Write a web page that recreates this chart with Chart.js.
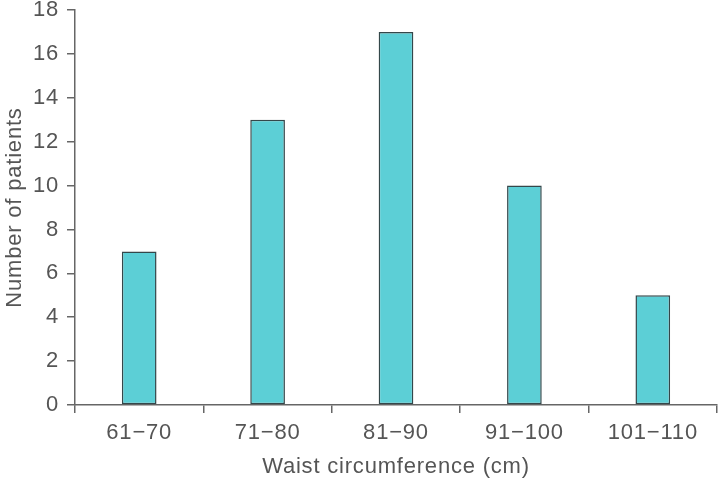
<!DOCTYPE html>
<html>
<head>
<meta charset="utf-8">
<script src="https://cdn.jsdelivr.net/npm/chart.js@4.4.0/dist/chart.umd.min.js"></script>
<style>
  html, body { margin:0; padding:0; background:#ffffff; }
  #wrap { width:722px; height:483px; }
</style>
</head>
<body>
<div id="wrap"><canvas id="waistChart" width="722" height="483"></canvas></div>
<script>
const categories = ["61\u221270", "71\u221280", "81\u221290", "91\u2212100", "101\u2212110"];
const patients = [7, 13, 17, 10, 5];
const yTicks = [0, 2, 4, 6, 8, 10, 12, 14, 16, 18];

const axisColor = "#666666";
const textColor = "#555555";
const font = { family: "'Liberation Sans', Arial, sans-serif", size: 22 };

// wider tracking like the original figure
const spacing = {
    id: "spacing",
    beforeLayout: c => { c.ctx.letterSpacing = "0.8px"; },
    beforeDraw: c => { c.ctx.letterSpacing = "0.8px"; }
};

const ctx = document.getElementById("waistChart").getContext("2d");
new Chart(ctx, {
    type: "bar",
    data: {
        labels: categories,
        datasets: [{
            label: "Number of patients",
            data: patients,
            backgroundColor: "#5ccfd6",
            borderColor: "#34474a",
            borderWidth: 1.5,
            borderSkipped: false,
            categoryPercentage: 1,
            barPercentage: 0.27
        }]
    },
    plugins: [spacing],
    options: {
        responsive: false,
        animation: false,
        layout: { padding: { top: 0, right: 5, left: 0, bottom: 0 } },
        plugins: { legend: { display: false }, tooltip: { enabled: false } },
        scales: {
            x: {
                offset: true,
                grid: { display: true, drawOnChartArea: false, offset: true, tickLength: 8, color: axisColor, lineWidth: 1.5 },
                border: { color: axisColor, width: 1.5 },
                ticks: { color: textColor, font: font, padding: 7, maxRotation: 0 },
                title: { display: true, text: "Waist circumference (cm)", color: textColor, font: font, padding: { top: 0, bottom: 3 } },
                afterFit: s => { s.height = 78; }
            },
            y: {
                min: 0,
                max: 18,
                afterBuildTicks: s => { s.ticks = yTicks.map(v => ({ value: v })); },
                grid: { display: true, drawOnChartArea: false, tickLength: 8, color: axisColor, lineWidth: 1.5 },
                border: { color: axisColor, width: 1.5 },
                ticks: { color: textColor, font: font, padding: 8 },
                title: { display: true, text: "Number of patients", color: textColor, font: font, padding: { top: 2, bottom: 0 } },
                afterFit: s => { s.width = 75; s.paddingTop = 10; s.paddingBottom = 0; }
            }
        }
    }
});
</script>
</body>
</html>
